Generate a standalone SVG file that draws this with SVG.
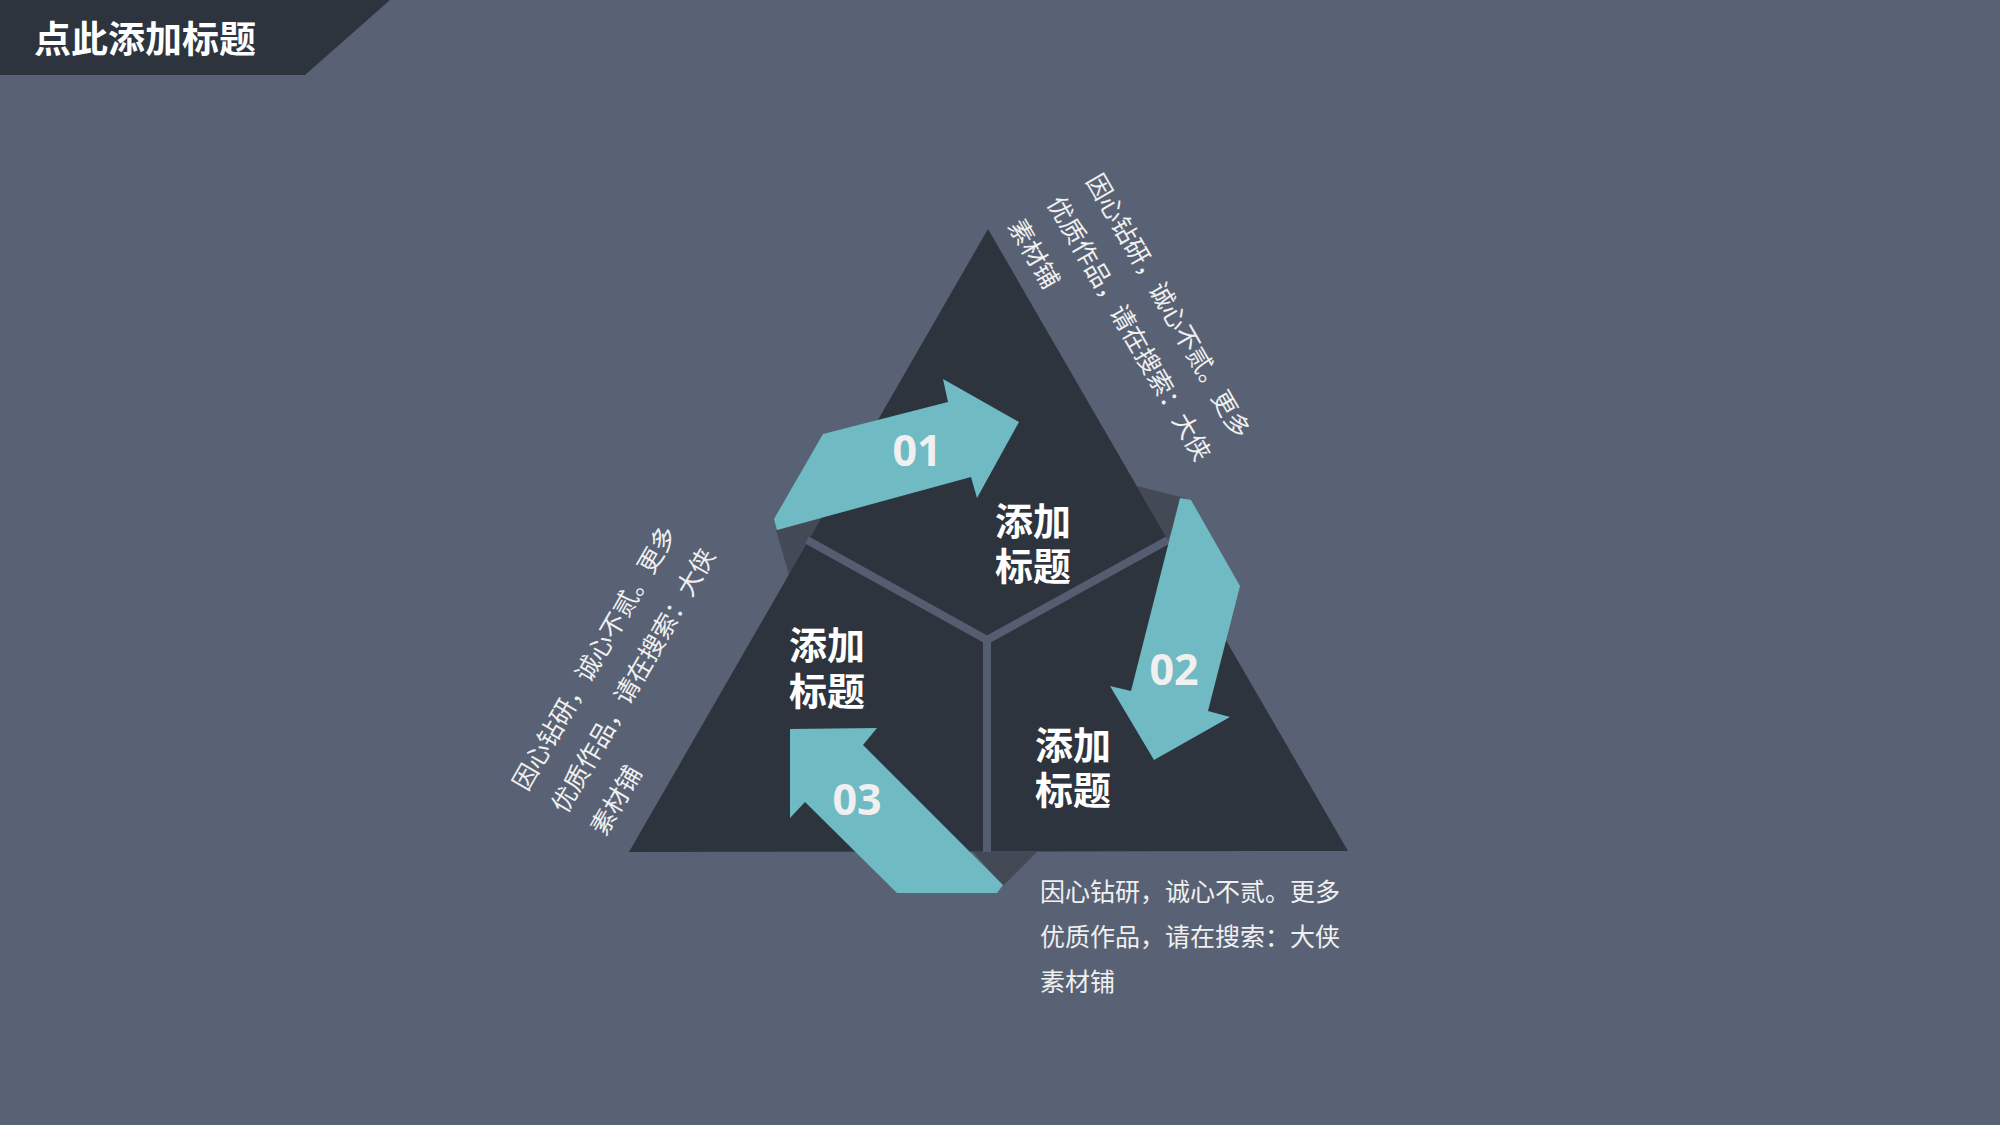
<svg xmlns="http://www.w3.org/2000/svg" width="2000" height="1125" viewBox="0 0 2000 1125">
  <style>
    .bg { fill: #596274; }
    .dark { fill: #2e343e; }
    .fold { fill: #434a55; }
    .yline { stroke: #555d70; stroke-width: 8; fill: none; stroke-linecap: butt; }
    .arrow { fill: #6fbac3; }
    .num { font-family: "Open Sans", "Noto Sans", sans-serif; font-weight: 700; font-size: 43px; fill: #f0f0f0; text-anchor: middle; }
    .label { font-family: "Noto Sans CJK SC", "Noto Sans", sans-serif; font-weight: 700; font-size: 38px; fill: #ffffff; }
    .desc { font-family: "Noto Sans CJK SC", "Noto Sans", sans-serif; font-weight: 400; font-size: 25px; fill: #f0f0f0; }
    .title { font-family: "Noto Sans CJK SC", "Noto Sans", sans-serif; font-weight: 700; font-size: 37px; fill: #ffffff; }
  </style>
  <rect class="bg" x="0" y="0" width="2000" height="1125"/>

  <g id="title">
    <polygon class="dark" points="0,0 390,0 305,75 0,75"/>
    <text class="title" x="34" y="53">点此添加标题</text>
  </g>

  <g id="pyramid">
    <polygon class="fold" points="776,530 822,518 789,575"/>
    <polygon class="fold" points="1137,486 1185,498 1168,540"/>
    <polygon class="fold" points="973,852 1037,852 1003,886"/>
    <polygon class="dark" points="988,229 1348,851 629,852"/>
    <polyline class="yline" points="807,540 987,640 1168,540"/>
    <line class="yline" x1="987" y1="640" x2="987" y2="852"/>
  </g>

  <g id="connectors">
    <g id="arrow-01">
      <polygon class="arrow" points="774,519 823,434 948,402 943,379 1019,422 977,498 971,477 777,530"/>
      <text class="num" x="917" y="466">01</text>
    </g>
    <g id="arrow-02">
      <polygon class="arrow" points="1180,498 1191,500 1240,586 1208,711 1230,717 1154,760 1110,686 1131,691"/>
      <text class="num" x="1174" y="685">02</text>
    </g>
    <g id="arrow-03">
      <polygon class="arrow" points="790,729 877,728 863,745 1003,885 997,893 897,893 805,802 790,818"/>
      <text class="num" x="857" y="815">03</text>
    </g>
  </g>

  <g id="label-top">
    <text class="label"><tspan x="995" y="535">添加</tspan><tspan x="995" y="580">标题</tspan></text>
  </g>
  <g id="label-left">
    <text class="label"><tspan x="789" y="659">添加</tspan><tspan x="789" y="705">标题</tspan></text>
  </g>
  <g id="label-right">
    <text class="label"><tspan x="1035" y="759">添加</tspan><tspan x="1035" y="804">标题</tspan></text>
  </g>

  <g id="desc-bottom">
    <text class="desc"><tspan x="1040" y="901">因心钻研，诚心不贰。更多</tspan><tspan x="1040" y="946">优质作品，请在搜索：大侠</tspan><tspan x="1040" y="991">素材铺</tspan></text>
  </g>
  <g id="desc-top">
    <text class="desc" transform="translate(1085.5,180.6) rotate(60)"><tspan x="0" y="0">因心钻研，诚心不贰。更多</tspan><tspan x="0" y="45">优质作品，请在搜索：大侠</tspan><tspan x="0" y="90">素材铺</tspan></text>
  </g>
  <g id="desc-left">
    <text class="desc" transform="translate(527,792.3) rotate(-60)"><tspan x="0" y="0">因心钻研，诚心不贰。更多</tspan><tspan x="0" y="45">优质作品，请在搜索：大侠</tspan><tspan x="0" y="90">素材铺</tspan></text>
  </g>
</svg>
